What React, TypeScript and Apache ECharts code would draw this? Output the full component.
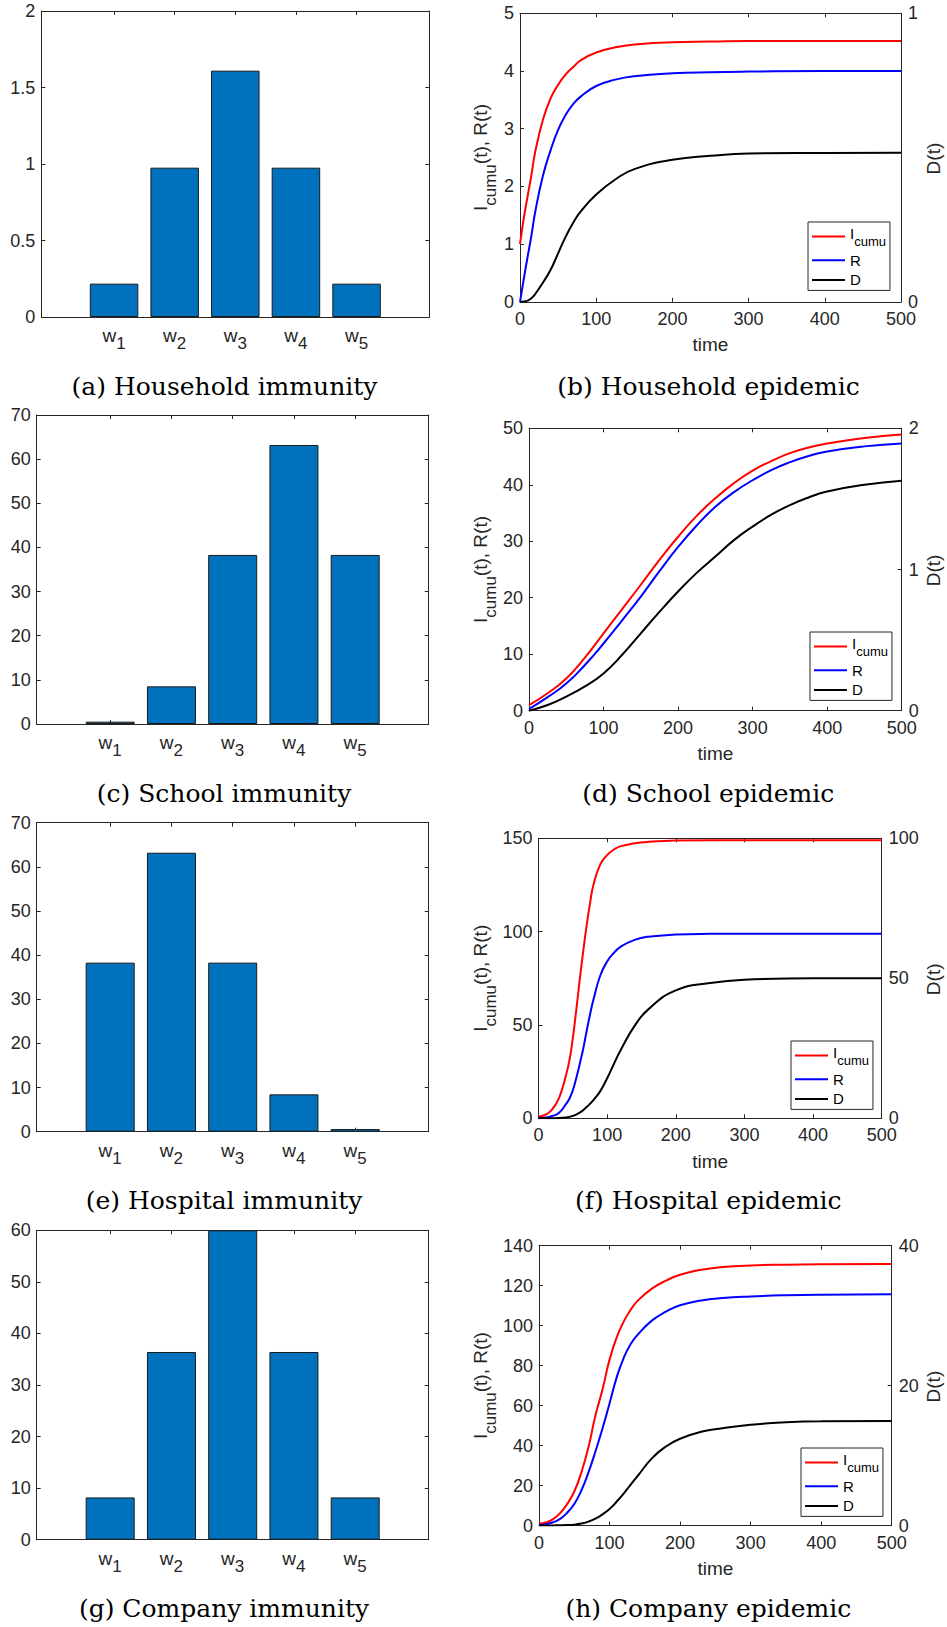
import React, { useEffect, useRef } from 'react';
import * as echarts from 'echarts';

// ---------- data ----------
const wPositions = [1, 2, 3, 4, 5];
const wSubs = ['1', '2', '3', '4', '5'];

const householdImmunity = [0.218, 0.976, 1.61, 0.976, 0.218];
const schoolImmunity = [0.53, 8.53, 38.3, 63.2, 38.3];
const hospitalImmunity = [38.3, 63.2, 38.3, 8.46, 0.6];
const companyImmunity = [8.2, 36.4, 60, 36.4, 8.2];

const legendNames = ['I', 'R', 'D'];

const hhT = [0, 5, 10, 15, 20, 30, 40, 50, 60, 70, 80, 100, 125, 150, 200, 250, 300, 400, 500];
const hhI = [1.0, 1.45, 1.83, 2.2, 2.6, 3.15, 3.52, 3.76, 3.94, 4.07, 4.19, 4.32, 4.41, 4.46, 4.5, 4.51, 4.52, 4.52, 4.52];
const hhR = [0, 0.4, 0.78, 1.15, 1.56, 2.18, 2.62, 2.98, 3.24, 3.43, 3.56, 3.74, 3.85, 3.91, 3.96, 3.98, 3.99, 4.0, 4.0];
const hhD = [0, 0.001, 0.004, 0.012, 0.027, 0.066, 0.11, 0.168, 0.226, 0.275, 0.314, 0.372, 0.424, 0.46, 0.492, 0.506, 0.514, 0.516, 0.517];

const scT = [0, 25, 50, 75, 100, 125, 150, 175, 200, 225, 250, 275, 300, 325, 350, 375, 400, 450, 500];
const scI = [1.0, 3.1, 5.7, 9.4, 13.7, 18.0, 22.3, 26.7, 30.8, 34.5, 37.6, 40.3, 42.5, 44.2, 45.6, 46.6, 47.3, 48.3, 48.9];
const scR = [0.3, 2.4, 4.8, 8.1, 11.9, 16.0, 20.2, 24.7, 29.0, 32.8, 36.1, 38.7, 40.8, 42.6, 44.0, 45.1, 45.9, 46.8, 47.3];
const scD = [0, 0.04, 0.1, 0.172, 0.264, 0.396, 0.548, 0.7, 0.844, 0.976, 1.092, 1.208, 1.304, 1.388, 1.456, 1.51, 1.552, 1.6, 1.628];

const hoT = [0, 10, 20, 30, 40, 45, 50, 55, 60, 65, 70, 75, 80, 90, 100, 110, 120, 140, 160, 200, 250, 300, 400, 500];
const hoI = [1, 1.9, 4.8, 11, 23, 31, 43, 58, 74, 89, 103, 115, 125, 136, 141, 144, 145.8, 147.3, 148.1, 148.8, 149, 149, 149, 149];
const hoR = [0, 0.4, 1.2, 3.0, 7.6, 10.5, 15, 21.5, 29, 37, 46.5, 55.5, 63.5, 76.5, 84, 88.7, 92, 95.6, 97.3, 98.4, 98.8, 98.9, 98.9, 98.9];
const hoD = [0, 0, 0.02, 0.08, 0.28, 0.5, 0.85, 1.35, 2.0, 2.9, 4.0, 5.2, 6.5, 9.7, 14.3, 19.5, 24.5, 33, 38.9, 45.7, 48.3, 49.5, 50, 50];

const coT = [0, 10, 20, 30, 40, 50, 60, 70, 80, 90, 100, 110, 120, 130, 140, 160, 180, 200, 230, 260, 300, 350, 400, 500];
const coI = [1, 1.5, 3.2, 6.2, 10.8, 17, 26.5, 39, 55, 68, 83, 94, 102, 108, 112.5, 118.5, 122.5, 125.5, 128, 129.3, 130.1, 130.5, 130.7, 130.8];
const coR = [0.3, 0.6, 1.6, 3.3, 6.4, 10.8, 17.5, 26.5, 37, 48.5, 61, 74, 83.8, 90.8, 95.5, 102.5, 107, 110.2, 112.6, 113.8, 114.6, 115.2, 115.5, 115.7];
const coD = [0, 0, 0.01, 0.03, 0.06, 0.12, 0.28, 0.55, 0.98, 1.6, 2.35, 3.4, 4.55, 5.85, 7.1, 9.6, 11.3, 12.4, 13.4, 13.9, 14.4, 14.75, 14.9, 14.95];

// ---------- style ----------
const AX = '#262626';
const SANS = 'Liberation Sans, Arial, Helvetica, sans-serif';
const SERIF = 'DejaVu Serif, serif';
const BAR_COLOR = '#0072BD';

const tick = (extra: any = {}) => ({ show: true, inside: true, length: 4, lineStyle: { color: AX, width: 1 }, ...extra });
const axLine = { show: true, onZero: false, lineStyle: { color: AX, width: 1 } };
const noSplit = { show: false };

type Box = { left: number; top: number; width: number; height: number };

const App: React.FC = () => {
  const ref = useRef<HTMLDivElement>(null);

  useEffect(() => {
    if (!ref.current) return;
    const chart = echarts.init(ref.current, undefined, { renderer: 'svg' });

    const grids: any[] = [];
    const xAxes: any[] = [];
    const yAxes: any[] = [];
    const series: any[] = [];
    const legends: any[] = [];
    const graphics: any[] = [];

    const captionText = (caption: string, x: number, y: number) => ({
      type: 'text', x, y,
      style: { text: caption, fontSize: 25, fontFamily: SERIF, fill: '#000', textAlign: 'center', textVerticalAlign: 'middle', align: 'center', verticalAlign: 'middle' },
    });

    const addBar = (box: Box, values: number[], yMax: number, yInt: number, caption: string, capX: number, capY: number) => {
      const g = grids.length;
      grids.push({ ...box, containLabel: false });
      const xCommon = { type: 'value', gridIndex: g, min: -0.2, max: 6.2, axisLine: axLine, splitLine: noSplit };
      xAxes.push({
        ...xCommon,
        position: 'bottom',
        axisTick: tick({ customValues: wPositions }),
        axisLabel: {
          customValues: wPositions,
          margin: 8,
          color: AX,
          fontFamily: SANS,
          formatter: (v: number) => `{m|w}{s|${wSubs[wPositions.indexOf(v)]}}`,
          rich: {
            m: { fontSize: 19, fontFamily: SANS, color: AX, padding: [0, 0, 6, 0] },
            s: { fontSize: 17, fontFamily: SANS, color: AX, padding: [10, 0, 0, 0] },
          },
        },
      });
      xAxes.push({ ...xCommon, position: 'top', axisTick: tick({ customValues: wPositions }), axisLabel: { show: false } });
      const yCommon = { type: 'value', gridIndex: g, min: 0, max: yMax, interval: yInt, axisLine: axLine, splitLine: noSplit, axisTick: tick() };
      yAxes.push({ ...yCommon, position: 'left', axisLabel: { fontSize: 18, color: AX, fontFamily: SANS, margin: 6 } });
      yAxes.push({ ...yCommon, position: 'right', axisLabel: { show: false } });
      series.push({
        type: 'bar',
        xAxisIndex: 2 * g,
        yAxisIndex: 2 * g,
        barWidth: '80%',
        data: wPositions.map((p, i) => [p, values[i]]),
        itemStyle: { color: BAR_COLOR, borderColor: '#1a1a1a', borderWidth: 1 },
        silent: true,
      });
      graphics.push(captionText(caption, capX, capY));
    };

    const addEpi = (
      box: Box, t: number[], I: number[], R: number[], D: number[],
      yMax: number, yInt: number, dMax: number, dInt: number,
      legendPos: { left: number; top: number }, caption: string, capX: number, capY: number,
    ) => {
      const g = grids.length;
      grids.push({ ...box, containLabel: false });
      const xCommon = { type: 'value', gridIndex: g, min: 0, max: 500, interval: 100, axisLine: axLine, splitLine: noSplit, axisTick: tick() };
      xAxes.push({ ...xCommon, position: 'bottom', axisLabel: { fontSize: 18, color: AX, fontFamily: SANS, margin: 8 } });
      xAxes.push({ ...xCommon, position: 'top', axisLabel: { show: false } });
      yAxes.push({ type: 'value', gridIndex: g, position: 'left', min: 0, max: yMax, interval: yInt, axisLine: axLine, splitLine: noSplit, axisTick: tick(), axisLabel: { fontSize: 18, color: AX, fontFamily: SANS, margin: 6 } });
      yAxes.push({ type: 'value', gridIndex: g, position: 'right', min: 0, max: dMax, interval: dInt, axisLine: axLine, splitLine: noSplit, axisTick: tick(), axisLabel: { fontSize: 18, color: AX, fontFamily: SANS, margin: 7 } });
      const mk = (name: string, vals: number[], color: string, yIdx: number) => ({
        type: 'line', name, xAxisIndex: 2 * g, yAxisIndex: yIdx, data: t.map((tt, i) => [tt, vals[i]]),
        symbol: 'none', showSymbol: false, smooth: 0.5, color,
        lineStyle: { width: 2, color }, itemStyle: { color }, silent: true,
      });
      series.push(mk(legendNames[0], I, '#FF0000', 2 * g));
      series.push(mk(legendNames[1], R, '#0000FF', 2 * g));
      series.push(mk(legendNames[2], D, '#000000', 2 * g + 1));
      legends.push({
        left: legendPos.left, top: legendPos.top, orient: 'vertical', data: legendNames,
        icon: 'rect', itemWidth: 33, itemHeight: 2, itemGap: 4.7, padding: [4, 4, 3, 4],
        borderColor: AX, borderWidth: 1, backgroundColor: '#fff', selectedMode: false,
        formatter: (name: string) => (name === legendNames[0] ? `{m|${name}}{s|cumu}` : `{n|${name}}`),
        textStyle: {
          color: '#000', fontSize: 15, fontFamily: SANS,
          rich: {
            m: { fontSize: 15, fontFamily: SANS, color: '#000', padding: [0, 0, 6, 0] },
            s: { fontSize: 13, fontFamily: SANS, color: '#000', padding: [10, 0, 0, 0] },
            n: { fontSize: 15, fontFamily: SANS, color: '#000' },
          },
        },
      });
      const cy = box.top + box.height / 2;
      graphics.push({
        type: 'text', x: 484, y: cy, rotation: Math.PI / 2,
        style: {
          text: '{m|I}{s|cumu}{m|(t), R(t)}', fill: AX, textAlign: 'center', textVerticalAlign: 'middle', align: 'center', verticalAlign: 'middle',
          fontSize: 19, fontFamily: SANS,
          rich: {
            m: { fontSize: 19, fontFamily: SANS, fill: AX, color: AX, padding: [0, 0, 7, 0] },
            s: { fontSize: 17, fontFamily: SANS, fill: AX, color: AX, padding: [12, 0, 0, 0] },
          },
        },
      });
      graphics.push({
        type: 'text', x: 933.5, y: cy + 1, rotation: Math.PI / 2,
        style: { text: 'D(t)', fontSize: 19, fontFamily: SANS, fill: AX, textAlign: 'center', textVerticalAlign: 'middle', align: 'center', verticalAlign: 'middle' },
      });
      graphics.push({
        type: 'text', x: box.left + box.width / 2, y: box.top + box.height + 43,
        style: { text: 'time', fontSize: 19, fontFamily: SANS, fill: AX, textAlign: 'center', textVerticalAlign: 'middle', align: 'center', verticalAlign: 'middle' },
      });
      graphics.push(captionText(caption, capX, capY));
    };

    addBar({ left: 41.3, top: 11, width: 388, height: 306 }, householdImmunity, 2, 0.5, '(a) Household immunity', 224.5, 386.5);
    addEpi({ left: 520, top: 13.3, width: 381, height: 288.5 }, hhT, hhI, hhR, hhD, 5, 1, 1, 1, { left: 808, top: 222 }, '(b) Household epidemic', 708.5, 386.5);
    addBar({ left: 36.7, top: 415, width: 392, height: 309 }, schoolImmunity, 70, 10, '(c) School immunity', 224, 793);
    addEpi({ left: 529, top: 428.3, width: 372.7, height: 282.4 }, scT, scI, scR, scD, 50, 10, 2, 1, { left: 810, top: 632 }, '(d) School epidemic', 708.3, 793);
    addBar({ left: 36.7, top: 822.7, width: 392, height: 309 }, hospitalImmunity, 70, 10, '(e) Hospital immunity', 224, 1200);
    addEpi({ left: 538.5, top: 838.3, width: 343.2, height: 280 }, hoT, hoI, hoR, hoD, 150, 50, 100, 50, { left: 791, top: 1041 }, '(f) Hospital epidemic', 708.3, 1200);
    addBar({ left: 36.7, top: 1230.3, width: 392, height: 309.4 }, companyImmunity, 60, 10, '(g) Company immunity', 224, 1608);
    addEpi({ left: 539, top: 1245.7, width: 352.7, height: 279.8 }, coT, coI, coR, coD, 140, 20, 40, 20, { left: 801, top: 1448 }, '(h) Company epidemic', 708.3, 1608);

    chart.setOption({
      animation: false,
      backgroundColor: '#ffffff',
      textStyle: { fontFamily: SANS },
      grid: grids,
      xAxis: xAxes,
      yAxis: yAxes,
      legend: legends,
      series,
      graphic: graphics,
    });

    return () => chart.dispose();
  }, []);

  return <div ref={ref} style={{ position: 'absolute', left: 0, top: 0, width: 947, height: 1627 }} />;
};

export default App;
